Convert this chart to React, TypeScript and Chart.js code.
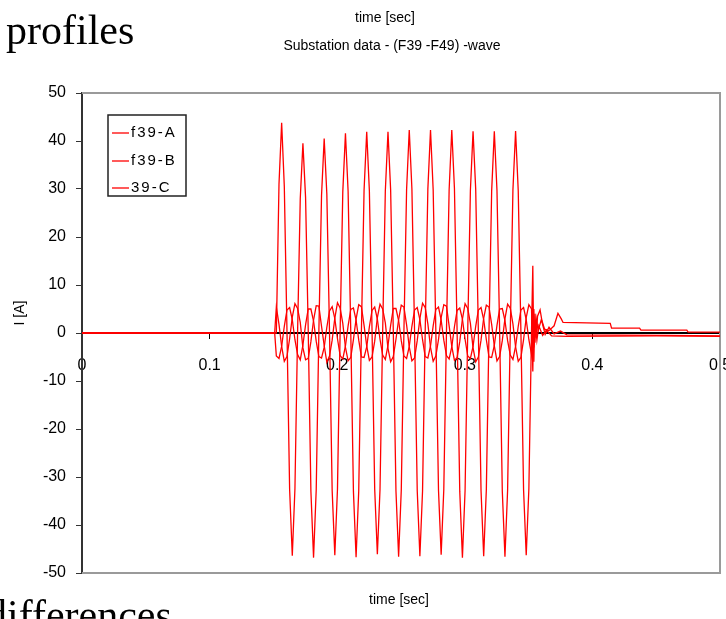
import React, { useEffect, useRef } from "react";
import { Chart, registerables } from "chart.js";

Chart.register(...registerables);

// ---------- data ----------
const SERIES_LABELS = ["f39-A", "f39-B", "39-C"];
const X_TICKS = [0, 0.1, 0.2, 0.3, 0.4, 0.5];
const X_TICK_LABELS = ["0", "0.1", "0.2", "0.3", "0.4", "0.5"];
const Y_TICKS = [-50, -40, -30, -20, -10, 0, 10, 20, 30, 40, 50];
const Y_TICK_LABELS = ["-50", "-40", "-30", "-20", "-10", "0", "10", "20", "30", "40", "50"];

// before the fault: all phases at zero
const PRE_FAULT_TIME = [0, 0.151];
const PRE_FAULT_VALUE = [0, 0];

// fault record: start time and sample interval (8 samples per 60 Hz cycle)
const FAULT_START = 0.1523;
const SAMPLE_STEP = 1 / 480;

const faultA = [
  0.0, 31.0, 43.8, 30.5, 0.5, -32.6, -46.4, -32.4,
  0.3, 28.0, 39.5, 28.2, 0.4, -32.9, -46.8, -32.7,
  0.2, 28.6, 40.5, 28.9, 0.3, -32.8, -46.3, -32.5,
  0.4, 29.4, 41.6, 29.5, 0.2, -33.0, -46.7, -32.8,
  0.3, 29.7, 41.9, 29.6, 0.5, -32.5, -46.1, -32.6,
  0.2, 29.6, 41.9, 29.8, 0.3, -32.9, -46.6, -32.7,
  0.4, 29.9, 42.3, 30.0, 0.2, -32.8, -46.5, -32.9,
  0.3, 30.0, 42.3, 29.8, 0.4, -32.7, -46.2, -32.5,
  0.2, 29.8, 42.3, 30.1, 0.3, -33.0, -46.8, -32.8,
  0.4, 29.7, 42.0, 29.9, 0.2, -32.8, -46.5, -32.6,
  0.3, 29.6, 42.0, 29.7, 0.4, -32.9, -46.6, -32.7,
  0.2, 29.8, 42.1, 29.6, 0.3, -32.6, -46.3, -32.4,
  0.5,
];

const faultB = [
  5.4, 1.8, -2.8, -5.9, -4.9, -1.2, 3.3, 6.1,
  5.1, 2.2, -3.1, -5.6, -5.3, -1.8, 2.7, 5.7,
  5.6, 1.4, -2.6, -6.1, -4.8, -1.5, 3.1, 6.3,
  5.2, 2.0, -3.0, -5.8, -5.1, -1.4, 2.9, 5.9,
  5.5, 1.6, -2.7, -5.7, -5.0, -1.7, 3.2, 6.0,
  5.0, 2.1, -3.2, -6.0, -4.9, -1.3, 2.8, 5.8,
  5.4, 1.7, -2.9, -5.8, -5.2, -1.6, 3.0, 6.2,
  5.3, 1.9, -3.0, -5.9, -4.8, -1.4, 3.2, 5.9,
  5.6, 1.5, -2.8, -5.7, -5.1, -1.8, 2.9, 6.1,
  5.1, 2.0, -3.1, -6.0, -5.0, -1.5, 3.1, 5.8,
  5.4, 1.8, -2.7, -5.8, -4.9, -1.6, 3.0, 6.0,
  5.2, 1.9, -2.9, -5.9, -5.1, -1.4, 3.2, 5.9,
  5.0,
];

const faultC = [
  -4.8, -5.3, -2.8, 1.4, 4.8, 5.3, 2.8, -1.4,
  -4.5, -5.6, -2.5, 1.7, 5.0, 5.0, 2.5, -1.7,
  -4.9, -5.2, -3.0, 1.2, 4.6, 5.5, 3.0, -1.2,
  -4.7, -5.4, -2.7, 1.5, 4.9, 5.2, 2.7, -1.5,
  -5.0, -5.1, -2.9, 1.3, 4.7, 5.4, 2.9, -1.3,
  -4.6, -5.5, -2.6, 1.6, 5.1, 5.1, 2.6, -1.6,
  -4.8, -5.3, -2.8, 1.4, 4.8, 5.3, 2.8, -1.4,
  -4.9, -5.2, -2.7, 1.5, 4.9, 5.4, 2.7, -1.5,
  -4.7, -5.4, -2.9, 1.3, 4.7, 5.2, 2.9, -1.3,
  -4.8, -5.3, -2.8, 1.4, 4.8, 5.3, 2.8, -1.4,
  -5.0, -5.1, -2.6, 1.6, 5.0, 5.1, 2.6, -1.6,
  -4.6, -5.5, -2.8, 1.4, 4.8, 5.3, 2.8, -1.4,
  -4.5,
];

// after the fault clears
const tailTimeA = [0.3533, 0.3541, 0.355, 0.356, 0.357, 0.359, 0.3605, 0.3625, 0.366, 0.37, 0.373, 0.3755, 0.377, 0.414, 0.415, 0.437, 0.438, 0.474, 0.475, 0.5];
const tailA = [14, -6, 4, -1, 3.5, 4.8, 2.5, 0.8, 0.5, 1.5, 4.1, 3.0, 2.2, 2.0, 1.0, 1.0, 0.6, 0.6, 0.2, 0.2];

const tailTimeB = [0.3533, 0.3541, 0.355, 0.356, 0.3575, 0.36, 0.363, 0.366, 0.37, 0.375, 0.38, 0.46, 0.5];
const tailB = [-8, 5, -2, 3, 0.5, 2.8, -0.3, 1.2, -0.2, 0.4, -0.4, -0.5, -0.6];

const tailTimeC = [0.3533, 0.3541, 0.3552, 0.3565, 0.358, 0.361, 0.364, 0.368, 0.38, 0.45, 0.5];
const tailC = [5, -3, 2, -1.5, 1.5, -0.5, 0.6, -0.6, -0.7, -0.6, -0.7];

// ---------- helpers ----------
function buildSeries(fault: number[], tailTime: number[], tail: number[]) {
  const pts: { x: number; y: number }[] = [];
  PRE_FAULT_TIME.forEach((t, i) => pts.push({ x: t, y: PRE_FAULT_VALUE[i] }));
  fault.forEach((v, i) => pts.push({ x: FAULT_START + i * SAMPLE_STEP, y: v }));
  tailTime.forEach((t, i) => pts.push({ x: t, y: tail[i] }));
  return pts;
}

const FONT = "Liberation Sans, Arial, sans-serif";
const RED = "#ff0000";

const frameAndTextPlugin = {
  id: "frameAndText",
  beforeDatasetsDraw(chart: any) {
    const { ctx, chartArea } = chart;
    const { left, right, top, bottom } = chartArea;
    ctx.save();
    ctx.strokeStyle = "#9a9a9a";
    ctx.lineWidth = 2;
    ctx.beginPath();
    ctx.moveTo(left, top);
    ctx.lineTo(right, top);
    ctx.lineTo(right, bottom);
    ctx.lineTo(left, bottom);
    ctx.stroke();
    ctx.restore();
  },
  afterDraw(chart: any) {
    const { ctx, chartArea } = chart;
    const { left, top, right, bottom } = chartArea;
    const cx = (left + right) / 2;
    ctx.save();
    ctx.fillStyle = "#000";
    ctx.textAlign = "center";
    ctx.textBaseline = "middle";
    ctx.font = `14px ${FONT}`;
    ctx.fillText("time [sec]", cx - 16, top - 75);
    ctx.fillText("Substation data - (F39 -F49) -wave", cx - 9, top - 47);
    ctx.fillText("time [sec]", cx - 2, bottom + 27);

    // y-axis title
    ctx.save();
    ctx.translate(20, top + 220);
    ctx.rotate(-Math.PI / 2);
    ctx.fillText("I [A]", 0, 0);
    ctx.restore();

    // legend box
    const bx = left + 26;
    const by = top + 22;
    const bw = 78;
    const bh = 81;
    ctx.fillStyle = "#fff";
    ctx.fillRect(bx, by, bw, bh);
    ctx.strokeStyle = "#222";
    ctx.lineWidth = 1.5;
    ctx.strokeRect(bx, by, bw, bh);
    const rows = [18, 46, 73];
    ctx.textAlign = "left";
    ctx.font = `15px ${FONT}`;
    try { (ctx as any).letterSpacing = "2px"; } catch (e) {}
    SERIES_LABELS.forEach((lab, i) => {
      const ry = by + rows[i];
      ctx.strokeStyle = RED;
      ctx.lineWidth = 1.3;
      ctx.beginPath();
      ctx.moveTo(bx + 4, ry);
      ctx.lineTo(bx + 21, ry);
      ctx.stroke();
      ctx.fillStyle = "#000";
      ctx.fillText(lab, bx + 23, ry);
    });
    ctx.restore();
  },
};

export default function App() {
  const ref = useRef<HTMLCanvasElement>(null);

  useEffect(() => {
    if (!ref.current) return;
    const datasets = [
      buildSeries(faultA, tailTimeA, tailA),
      buildSeries(faultB, tailTimeB, tailB),
      buildSeries(faultC, tailTimeC, tailC),
    ].map((data, i) => ({
      label: SERIES_LABELS[i],
      data,
      borderColor: RED,
      backgroundColor: RED,
      borderWidth: 1.3,
      pointRadius: 0,
      tension: 0,
      fill: false,
    }));

    const chart = new Chart(ref.current, {
      type: "line",
      data: { datasets },
      options: {
        responsive: false,
        animation: false,
        devicePixelRatio: 1,
        parsing: false,
        normalized: true,
        layout: { padding: { left: 0, top: 93, right: 6, bottom: 46 } },
        plugins: {
          legend: { display: false },
          tooltip: { enabled: false },
          title: { display: false },
        },
        scales: {
          x: {
            type: "linear",
            position: { y: 0 } as any,
            min: 0,
            max: 0.5,
            afterBuildTicks: (s: any) => {
              s.ticks = X_TICKS.map((v) => ({ value: v }));
            },
            afterFit: (s: any) => {
              s.paddingLeft = 0;
              s.paddingRight = 0;
            },
            ticks: {
              autoSkip: false,
              maxRotation: 0,
              padding: 18,
              color: "#000",
              font: { family: FONT, size: 16 },
              callback: (v: any) => X_TICK_LABELS[X_TICKS.findIndex((t) => Math.abs(t - v) < 1e-9)],
            },
            grid: { drawOnChartArea: false, drawTicks: true, tickLength: 5, color: "#000" },
            border: { color: "#000", width: 2 },
          },
          y: {
            type: "linear",
            position: "left",
            min: -50,
            max: 50,
            afterBuildTicks: (s: any) => {
              s.ticks = Y_TICKS.map((v) => ({ value: v }));
            },
            afterFit: (s: any) => {
              s.width = 82;
            },
            ticks: {
              autoSkip: false,
              padding: 10,
              color: "#000",
              font: { family: FONT, size: 16 },
              callback: (v: any) => Y_TICK_LABELS[Y_TICKS.indexOf(v)],
            },
            grid: { drawOnChartArea: false, drawTicks: true, tickLength: 6, color: "#333" },
            border: { color: "#333", width: 2 },
            title: { display: false },
          },
        },
      },
      plugins: [frameAndTextPlugin],
    } as any);
    return () => chart.destroy();
  }, []);

  return (
    <div
      style={{
        position: "fixed",
        left: 0,
        top: 0,
        width: 726,
        height: 619,
        background: "#fff",
        overflow: "hidden",
      }}
    >
      <canvas
        ref={ref}
        width={726}
        height={619}
        style={{ position: "absolute", left: 0, top: 0, width: 726, height: 619 }}
      />
      <div
        style={{
          position: "absolute",
          left: 6,
          top: 9,
          font: '42px "Liberation Serif", "Times New Roman", serif',
          lineHeight: 1,
          color: "#000",
          whiteSpace: "nowrap",
        }}
      >
        profiles
      </div>
      <div
        style={{
          position: "absolute",
          left: -14,
          top: 594,
          font: '42px "Liberation Serif", "Times New Roman", serif',
          lineHeight: 1,
          color: "#000",
          whiteSpace: "nowrap",
        }}
      >
        differences
      </div>
    </div>
  );
}
